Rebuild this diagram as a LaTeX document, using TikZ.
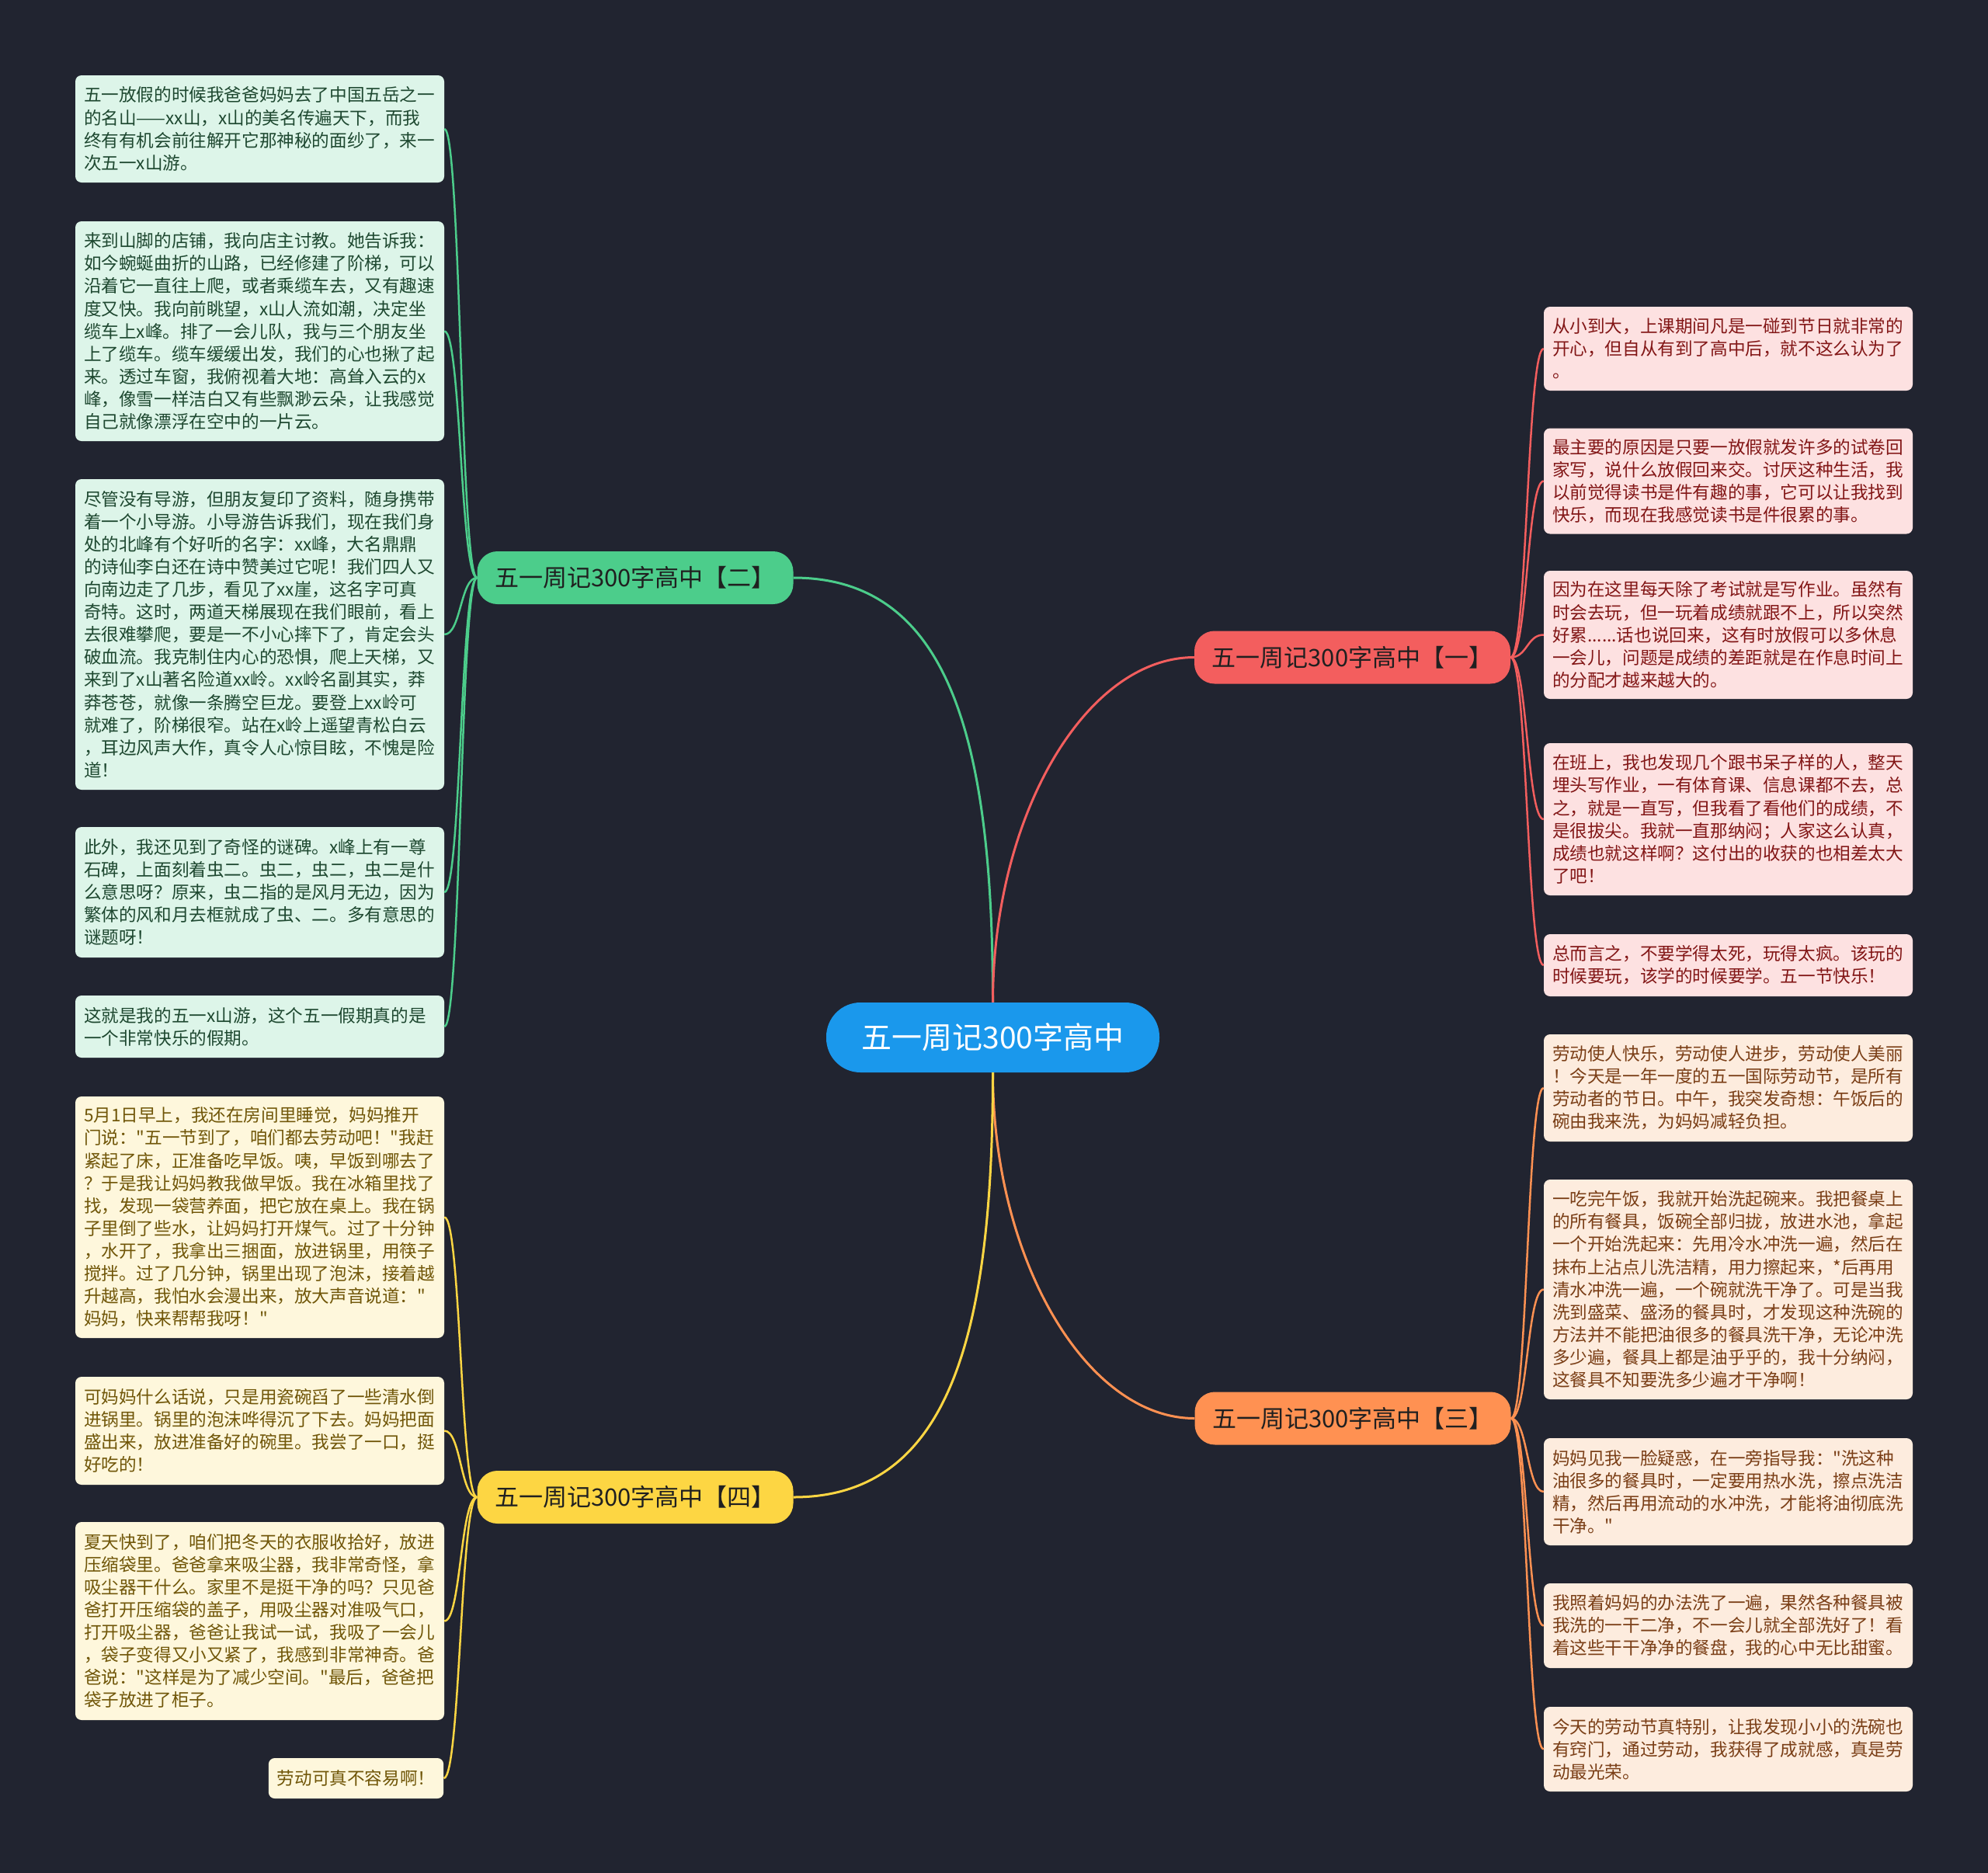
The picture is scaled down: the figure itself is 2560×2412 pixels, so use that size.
\documentclass[tikz,border=0pt]{standalone}
\usepackage{fontspec}
\setmainfont{Noto Sans CJK SC}[Ligatures=TeXOff]
\definecolor{bgc}{RGB}{33,36,48}
\definecolor{cblue}{RGB}{26,152,236}
\definecolor{gbr}{RGB}{76,205,139}
\definecolor{rbr}{RGB}{243,94,94}
\definecolor{obr}{RGB}{255,145,82}
\definecolor{ybr}{RGB}{253,214,67}
\definecolor{gfill}{RGB}{221,245,233}
\definecolor{rfill}{RGB}{253,225,225}
\definecolor{ofill}{RGB}{253,236,222}
\definecolor{yfill}{RGB}{254,247,220}
\definecolor{gtxt}{RGB}{30,72,48}
\definecolor{rtxt}{RGB}{130,22,22}
\definecolor{otxt}{RGB}{122,62,22}
\definecolor{ytxt}{RGB}{112,86,8}
\definecolor{btxt}{RGB}{32,32,32}
\tikzset{
  leafbase/.style={rounded corners=8pt, inner xsep=11pt, inner ysep=0pt, text width=453pt, align=left, font=\fontsize{22.6}{29.1}\selectfont},
  gleaf/.style={leafbase, fill=gfill, text=gtxt},
  rleaf/.style={leafbase, fill=rfill, text=rtxt},
  oleaf/.style={leafbase, fill=ofill, text=otxt},
  yleaf/.style={leafbase, fill=yfill, text=ytxt},
  yshort/.style={rounded corners=8pt, inner xsep=11pt, inner ysep=0pt, minimum height=52pt, fill=yfill, text=ytxt, font=\fontsize{22.6}{29.1}\selectfont},
  branchbox/.style={rounded corners=26pt, minimum width=407pt, minimum height=68pt, inner sep=0pt, text=btxt, font=\fontsize{31}{37}\selectfont},
  rootbox/.style={rounded corners=44pt, minimum width=429pt, minimum height=90pt, inner sep=0pt, fill=cblue, text=white, font=\fontsize{39}{47}\selectfont},
  mainline/.style={line width=3pt},
  leafline/.style={line width=2.5pt},
}
\begin{document}
\begin{tikzpicture}[x=1pt,y=-1pt]
\fill[bgc] (0,0) rectangle (2560,2412);
\useasboundingbox (0,0) rectangle (2560,2412);

% root and branches
\node[rootbox] (c) at (1278.5,1336) {五一周记300字高中};
\node[branchbox, fill=gbr] (n2) at (818,744) {五一周记300字高中【二】};
\node[branchbox, fill=rbr] (n1) at (1741.5,846.5) {五一周记300字高中【一】};
\node[branchbox, fill=obr] (n3) at (1742,1826.5) {五一周记300字高中【三】};
\node[branchbox, fill=ybr] (n4) at (818,1928) {五一周记300字高中【四】};

% green leaves
\node[gleaf, minimum height=138pt] (a1) at (334.5,166) {五一放假的时候我爸爸妈妈去了中国五岳之一\\
的名山——xx山，x山的美名传遍天下，而我\\
终有有机会前往解开它那神秘的面纱了，来一\\
次五一x山游。};
\node[gleaf, minimum height=283pt] (a2) at (334.5,426.5) {来到山脚的店铺，我向店主讨教。她告诉我：\\
如今蜿蜒曲折的山路，已经修建了阶梯，可以\\
沿着它一直往上爬，或者乘缆车去，又有趣速\\
度又快。我向前眺望，x山人流如潮，决定坐\\
缆车上x峰。排了一会儿队，我与三个朋友坐\\
上了缆车。缆车缓缓出发，我们的心也揪了起\\
来。透过车窗，我俯视着大地：高耸入云的x\\
峰，像雪一样洁白又有些飘渺云朵，让我感觉\\
自己就像漂浮在空中的一片云。};
\node[gleaf, minimum height=400pt] (a3) at (334.5,817) {尽管没有导游，但朋友复印了资料，随身携带\\
着一个小导游。小导游告诉我们，现在我们身\\
处的北峰有个好听的名字：xx峰，大名鼎鼎\\
的诗仙李白还在诗中赞美过它呢！我们四人又\\
向南边走了几步，看见了xx崖，这名字可真\\
奇特。这时，两道天梯展现在我们眼前，看上\\
去很难攀爬，要是一不小心摔下了，肯定会头\\
破血流。我克制住内心的恐惧，爬上天梯，又\\
来到了x山著名险道xx岭。xx岭名副其实，莽\\
莽苍苍，就像一条腾空巨龙。要登上xx岭可\\
就难了，阶梯很窄。站在x岭上遥望青松白云\\
，耳边风声大作，真令人心惊目眩，不愧是险\\
道！};
\node[gleaf, minimum height=168pt] (a4) at (334.5,1149) {此外，我还见到了奇怪的谜碑。x峰上有一尊\\
石碑，上面刻着虫二。虫二，虫二，虫二是什\\
么意思呀？原来，虫二指的是风月无边，因为\\
繁体的风和月去框就成了虫、二。多有意思的\\
谜题呀！};
\node[gleaf, minimum height=80pt] (a5) at (334.5,1322) {这就是我的五一x山游，这个五一假期真的是\\
一个非常快乐的假期。};

% yellow leaves
\node[yleaf, minimum height=311pt] (e1) at (334.5,1567.5) {5月1日早上，我还在房间里睡觉，妈妈推开\\
门说："五一节到了，咱们都去劳动吧！"我赶\\
紧起了床，正准备吃早饭。咦，早饭到哪去了\\
？于是我让妈妈教我做早饭。我在冰箱里找了\\
找，发现一袋营养面，把它放在桌上。我在锅\\
子里倒了些水，让妈妈打开煤气。过了十分钟\\
，水开了，我拿出三捆面，放进锅里，用筷子\\
搅拌。过了几分钟，锅里出现了泡沫，接着越\\
升越高，我怕水会漫出来，放大声音说道："\\
妈妈，快来帮帮我呀！"};
\node[yleaf, minimum height=139pt] (e2) at (334.5,1842.5) {可妈妈什么话说，只是用瓷碗舀了一些清水倒\\
进锅里。锅里的泡沫哗得沉了下去。妈妈把面\\
盛出来，放进准备好的碗里。我尝了一口，挺\\
好吃的！};
\node[yleaf, minimum height=255pt] (e3) at (334.5,2087.5) {夏天快到了，咱们把冬天的衣服收拾好，放进\\
压缩袋里。爸爸拿来吸尘器，我非常奇怪，拿\\
吸尘器干什么。家里不是挺干净的吗？只见爸\\
爸打开压缩袋的盖子，用吸尘器对准吸气口，\\
打开吸尘器，爸爸让我试一试，我吸了一会儿\\
，袋子变得又小又紧了，我感到非常神奇。爸\\
爸说："这样是为了减少空间。"最后，爸爸把\\
袋子放进了柜子。};
\node[yshort] (e4) at (458.5,2290) {劳动可真不容易啊！};

% red leaves
\node[rleaf, minimum height=108pt] (b1) at (2225.5,449) {从小到大，上课期间凡是一碰到节日就非常的\\
开心，但自从有到了高中后，就不这么认为了\\
。};
\node[rleaf, minimum height=136pt] (b2) at (2225.5,619.5) {最主要的原因是只要一放假就发许多的试卷回\\
家写，说什么放假回来交。讨厌这种生活，我\\
以前觉得读书是件有趣的事，它可以让我找到\\
快乐，而现在我感觉读书是件很累的事。};
\node[rleaf, minimum height=165pt] (b3) at (2225.5,817.5) {因为在这里每天除了考试就是写作业。虽然有\\
时会去玩，但一玩着成绩就跟不上，所以突然\\
好累......话也说回来，这有时放假可以多休息\\
一会儿，问题是成绩的差距就是在作息时间上\\
的分配才越来越大的。};
\node[rleaf, minimum height=196pt] (b4) at (2225.5,1055) {在班上，我也发现几个跟书呆子样的人，整天\\
埋头写作业，一有体育课、信息课都不去，总\\
之，就是一直写，但我看了看他们的成绩，不\\
是很拔尖。我就一直那纳闷；人家这么认真，\\
成绩也就这样啊？这付出的收获的也相差太大\\
了吧！};
\node[rleaf, minimum height=80pt] (b5) at (2225.5,1243) {总而言之，不要学得太死，玩得太疯。该玩的\\
时候要玩，该学的时候要学。五一节快乐！};

% orange leaves
\node[oleaf, minimum height=138pt] (d1) at (2225.5,1401) {劳动使人快乐，劳动使人进步，劳动使人美丽\\
！今天是一年一度的五一国际劳动节，是所有\\
劳动者的节日。中午，我突发奇想：午饭后的\\
碗由我来洗，为妈妈减轻负担。};
\node[oleaf, minimum height=283pt] (d2) at (2225.5,1660.5) {一吃完午饭，我就开始洗起碗来。我把餐桌上\\
的所有餐具，饭碗全部归拢，放进水池，拿起\\
一个开始洗起来：先用冷水冲洗一遍，然后在\\
抹布上沾点儿洗洁精，用力擦起来，*后再用\\
清水冲洗一遍，一个碗就洗干净了。可是当我\\
洗到盛菜、盛汤的餐具时，才发现这种洗碗的\\
方法并不能把油很多的餐具洗干净，无论冲洗\\
多少遍，餐具上都是油乎乎的，我十分纳闷，\\
这餐具不知要洗多少遍才干净啊！};
\node[oleaf, minimum height=138pt] (d3) at (2225.5,1921) {妈妈见我一脸疑惑，在一旁指导我："洗这种\\
油很多的餐具时，一定要用热水洗，擦点洗洁\\
精，然后再用流动的水冲洗，才能将油彻底洗\\
干净。"};
\node[oleaf, minimum height=109pt] (d4) at (2225.5,2093.5) {我照着妈妈的办法洗了一遍，果然各种餐具被\\
我洗的一干二净，不一会儿就全部洗好了！看\\
着这些干干净净的餐盘，我的心中无比甜蜜。};
\node[oleaf, minimum height=109pt] (d5) at (2225.5,2252.5) {今天的劳动节真特别，让我发现小小的洗碗也\\
有窍门，通过劳动，我获得了成就感，真是劳\\
动最光荣。};

% root to branches
\draw[mainline, gbr] (c.north) .. controls +(0,-340) and +(200,0) .. (n2.east);
\draw[mainline, rbr] (c.north) .. controls +(0,-240) and +(-140,0) .. (n1.west);
\draw[mainline, obr] (c.south) .. controls +(0,240) and +(-140,0) .. (n3.west);
\draw[mainline, ybr] (c.south) .. controls +(0,340) and +(200,0) .. (n4.east);

% branches to leaves
\foreach \m in {a1,a2,a3,a4,a5}
  \draw[leafline, gbr] (n2.west) .. controls +(-21.5,0) and +(21.5,0) .. (\m.east);
\foreach \m in {e1,e2,e3,e4}
  \draw[leafline, ybr] (n4.west) .. controls +(-21.5,0) and +(21.5,0) .. (\m.east);
\foreach \m in {b1,b2,b3,b4,b5}
  \draw[leafline, rbr] (n1.east) .. controls +(21.5,0) and +(-21.5,0) .. (\m.west);
\foreach \m in {d1,d2,d3,d4,d5}
  \draw[leafline, obr] (n3.east) .. controls +(21.5,0) and +(-21.5,0) .. (\m.west);
\end{tikzpicture}
\end{document}
